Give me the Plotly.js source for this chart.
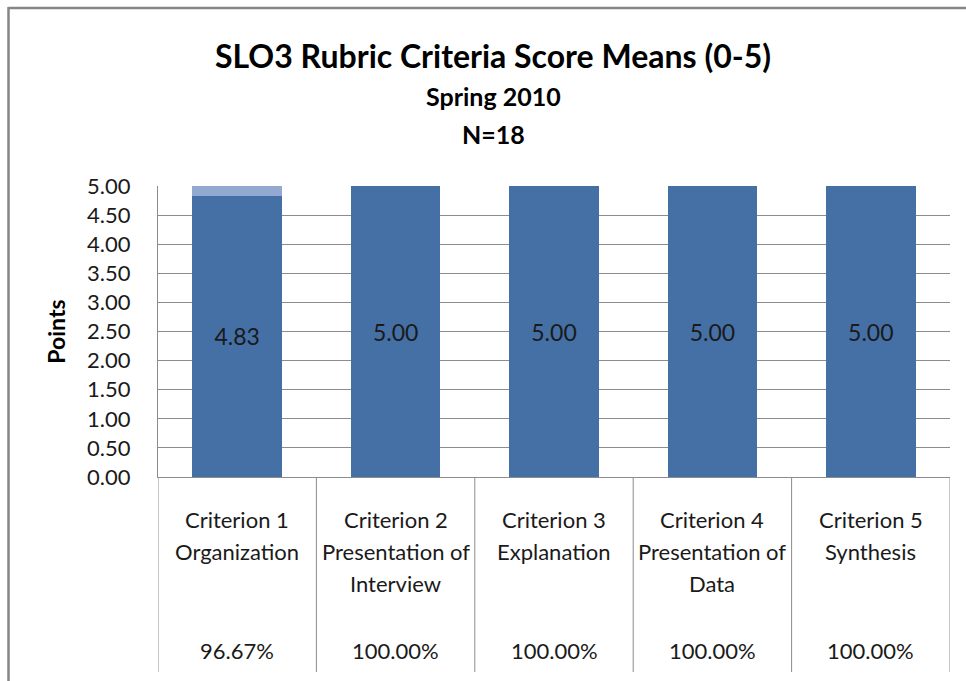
<!DOCTYPE html>
<html>
<head>
<meta charset="utf-8">
<script src="https://cdn.plot.ly/plotly-3.0.1.min.js"></script>
<style>
html,body{margin:0;padding:0;background:#fff;}
#chart{width:966px;height:681px;}
</style>
</head>
<body>
<div id="chart"></div>
<script>
// ---- data ----
var categories = ["Criterion 1", "Criterion 2", "Criterion 3", "Criterion 4", "Criterion 5"];
var labelLines = [
  ["Criterion 1", "Organization"],
  ["Criterion 2", "Presentation of", "Interview"],
  ["Criterion 3", "Explanation"],
  ["Criterion 4", "Presentation of", "Data"],
  ["Criterion 5", "Synthesis"]
];
var means = [4.83, 5.00, 5.00, 5.00, 5.00];
var remainder = [0.17, 0, 0, 0, 0];
var percents = ["96.67%", "100.00%", "100.00%", "100.00%", "100.00%"];
var yTicks = [0, 0.5, 1, 1.5, 2, 2.5, 3, 3.5, 4, 4.5, 5];
var titleLines = ["SLO3 Rubric Criteria Score Means (0-5)", "Spring 2010", "N=18"];

// ---- layout helpers ----
var FONT = "Lato, 'Open Sans', sans-serif";
var TXT = "#1a1a1a";
var GRID = "#8c8c8c";
function py(px) { return (477 - px) / 291; }   // pixel row -> paper y
function pxX(px) { return (px - 158) / 792; }  // pixel col -> paper x

var traces = [
  {
    type: "bar", x: categories, y: means, name: "Mean",
    marker: {color: "#4470a6"},
    texttemplate: "%{y:.2f}", textposition: "inside", insidetextanchor: "middle",
    textangle: 0, constraintext: "none",
    textfont: {family: FONT, size: 23, color: TXT},
    hoverinfo: "x+y"
  },
  {
    type: "bar", x: categories, y: remainder, name: "Remainder",
    marker: {color: "#93a9d1"}, hoverinfo: "skip", textposition: "none"
  }
];

var annotations = [];
var lineRows = [519, 551, 583];
labelLines.forEach(function (lines, i) {
  lines.forEach(function (t, j) {
    annotations.push({
      x: categories[i], xref: "x", y: py(lineRows[j]), yref: "paper",
      text: t, showarrow: false, xanchor: "center", yanchor: "middle",
      font: {family: FONT, size: 22, color: TXT}
    });
  });
  annotations.push({
    x: categories[i], xref: "x", y: py(650), yref: "paper",
    text: percents[i], showarrow: false, xanchor: "center", yanchor: "middle",
    font: {family: FONT, size: 22, color: TXT}
  });
});
var titleRows = [55, 96, 134];
var titleSizes = [32, 25, 25];
titleLines.forEach(function (t, j) {
  annotations.push({
    x: pxX(493), xref: "paper", y: py(titleRows[j]), yref: "paper",
    text: "<b>" + t + "</b>", showarrow: false, xanchor: "center", yanchor: "middle",
    font: {family: FONT, size: titleSizes[j], color: "#000"}
  });
});

var shapes = [];
for (var k = 0; k <= categories.length; k++) {
  shapes.push({
    type: "line", xref: "x", yref: "paper",
    x0: k - 0.5, x1: k - 0.5, y0: 0, y1: py(672),
    line: {color: GRID, width: 1}
  });
}
// outer chart frame (top + left)
shapes.push({type: "line", xref: "paper", yref: "paper",
  x0: pxX(8.5), x1: pxX(980), y0: py(8), y1: py(8), line: {color: "#868686", width: 2.5}});
shapes.push({type: "line", xref: "paper", yref: "paper",
  x0: pxX(8.5), x1: pxX(8.5), y0: py(7), y1: py(700), line: {color: "#868686", width: 2.5}});

var layout = {
  width: 966, height: 681,
  margin: {l: 158, r: 16, t: 186, b: 204, pad: 0},
  paper_bgcolor: "#fff", plot_bgcolor: "#fff",
  barmode: "stack", bargap: 0.434,
  showlegend: false,
  font: {family: FONT, color: TXT},
  xaxis: {
    type: "category", range: [-0.5, 4.5], showticklabels: false,
    showgrid: false, zeroline: false, showline: true, linecolor: GRID, linewidth: 1,
    ticks: "", fixedrange: true
  },
  yaxis: {
    range: [0, 5], tickvals: yTicks, tickformat: ".2f",
    showgrid: true, gridcolor: GRID, gridwidth: 1,
    zeroline: false, showline: true, linecolor: GRID, linewidth: 1,
    ticks: "", ticklabelstandoff: 22,
    tickfont: {family: FONT, size: 22, color: TXT},
    title: {text: "<b>Points</b>", font: {family: FONT, size: 23, color: "#000"}, standoff: 15},
    automargin: false, fixedrange: true
  },
  annotations: annotations,
  shapes: shapes
};

Plotly.newPlot("chart", traces, layout, {displayModeBar: false, staticPlot: true});
</script>
</body>
</html>
